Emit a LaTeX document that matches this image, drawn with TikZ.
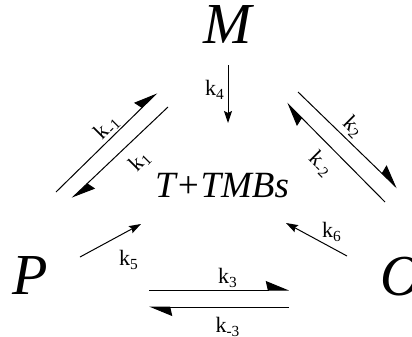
\documentclass[tikz,border=0pt]{standalone}
\usepackage{fontspec}
\setmainfont{Liberation Serif}
\usetikzlibrary{arrows.meta}

\tikzset{
  harp/.style={line width=0.5pt,-{Stealth[left,length=11pt,width=9pt,inset=1pt]}},
  rate/.style={line width=0.5pt,-{Stealth[length=6pt,width=4pt,inset=1pt]}},
  klab/.style={font=\fontsize{11}{11}\selectfont,inner sep=0pt},
  species/.style={font=\fontsize{29}{29}\selectfont\itshape,inner sep=0pt},
}

\begin{document}
\begin{tikzpicture}[x=0.5pt,y=-0.5pt]
  \useasboundingbox (0,0) rectangle (412,337);
  % species
  \node[species] (M) at (228,25) {M};
  \node[species] (P) at (30,276) {P};
  \node[species] (O) at (401,277) {O};
  \node[font=\fontsize{18.5}{18.5}\selectfont\itshape,inner sep=0pt] (TMB) at (222,186) {T+TMBs};
  % end points
  \coordinate (mpA) at (56,192);   \coordinate (mpB) at (157,93);
  \coordinate (pmA) at (168,107);  \coordinate (pmB) at (72,198);
  \coordinate (moA) at (298,92);   \coordinate (moB) at (397,188);
  \coordinate (omA) at (385,202);  \coordinate (omB) at (287,103);
  \coordinate (poA) at (149,290);  \coordinate (poB) at (289,290);
  \coordinate (opA) at (289,307);  \coordinate (opB) at (149,307);
  \coordinate (mt) at (228,65);    \coordinate (tm) at (228,123);
  \coordinate (pt) at (80,257);    \coordinate (tp) at (141,224);
  \coordinate (ot) at (347,256);   \coordinate (to) at (286,223);
  % reversible steps
  \draw[harp] (mpA) -- (mpB);
  \draw[harp] (pmA) -- (pmB);
  \draw[harp] (moA) -- (moB);
  \draw[harp] (omA) -- (omB);
  \draw[harp] (poA) -- (poB);
  \draw[harp] (opA) -- (opB);
  % one way steps
  \draw[rate] (mt) -- (tm);
  \draw[rate] (pt) -- (tp);
  \draw[rate] (ot) -- (to);
  % rate constants
  \node[klab,rotate=45] (km1) at (107,127) {k\textsubscript{-1}};
  \node[klab,rotate=45] (k1) at (140,161) {k\textsubscript{1}};
  \node[klab,rotate=-45] (k2) at (353,127) {k\textsubscript{2}};
  \node[klab,rotate=-45] (km2) at (321,164) {k\textsubscript{-2}};
  \node[klab] (k3) at (228,278) {k\textsubscript{3}};
  \node[klab] (km3) at (228,327) {k\textsubscript{-3}};
  \node[klab] (k4) at (215,90) {k\textsubscript{4}};
  \node[klab] (k5) at (129,260) {k\textsubscript{5}};
  \node[klab] (k6) at (332,232) {k\textsubscript{6}};
\end{tikzpicture}
\end{document}
